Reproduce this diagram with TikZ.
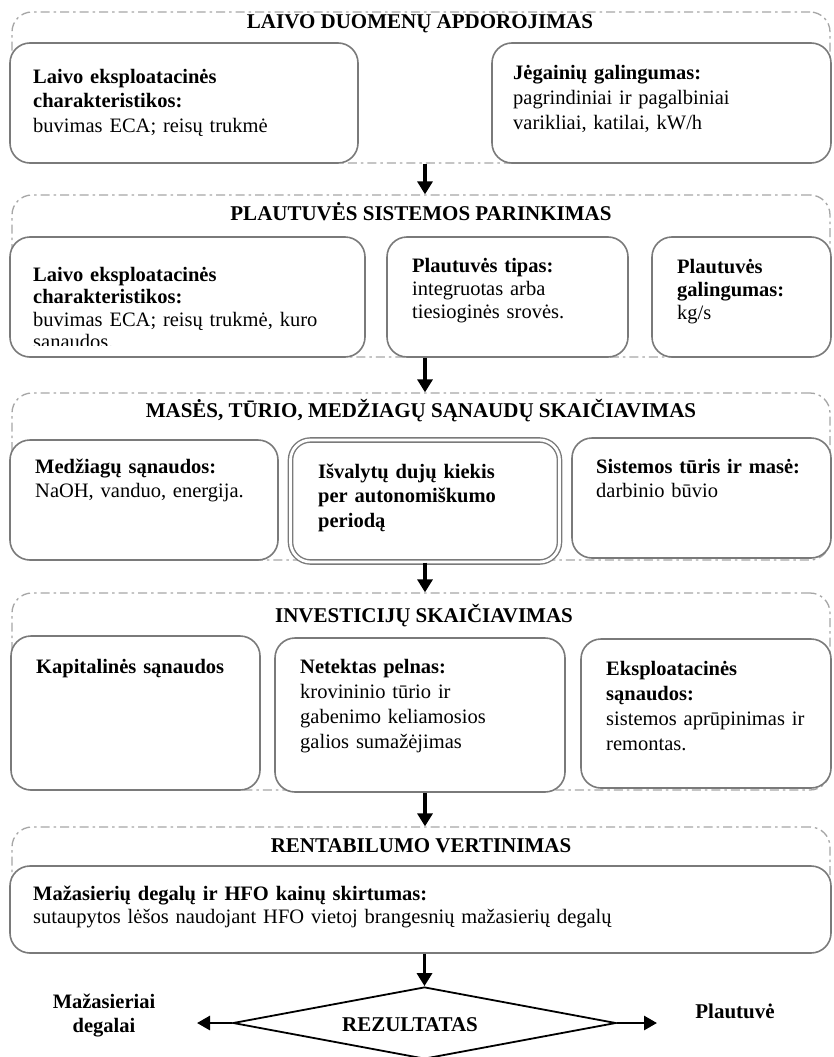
\documentclass[tikz,border=0pt]{standalone}
\usepackage{fontspec}
\setmainfont{Liberation Serif}
\usetikzlibrary{arrows.meta,shapes.geometric}
\definecolor{outgray}{HTML}{A6A6A6}
\definecolor{ingray}{HTML}{7A7A7A}
\tikzset{
  sect/.style={draw=outgray, line width=1.3pt, dash pattern=on 9pt off 4pt on 2.5pt off 4pt, rounded corners=20pt, inner sep=0pt},
  inbox/.style={draw=ingray, line width=1.6pt, rounded corners=20pt, fill=white, inner sep=0pt},
  dblbox/.style={draw=ingray, line width=1.4pt, double=white, double distance=2.8pt, rounded corners=20pt, fill=white, inner sep=0pt},
  flow/.style={line width=3.5pt, -{Triangle[length=13pt,width=15pt]}},
  side/.style={line width=2.8pt, -{Triangle[length=13pt,width=14pt]}},
  hd/.style={font=\fontsize{21}{25}\selectfont\bfseries, anchor=base, inner sep=0pt},
  txt/.style={font=\fontsize{20.5}{24.5}\selectfont, anchor=base west, inner sep=0pt, align=left, text width=800pt},
  lbl/.style={font=\fontsize{20.5}{24}\selectfont\bfseries, inner sep=0pt, align=center},
}
\begin{document}
\begin{tikzpicture}[x=1pt,y=-1pt]
\useasboundingbox (0,0) rectangle (833,1057);
\clip (0,0) rectangle (833,1057);
\fill[white] (0,0) rectangle (833,1057);

% ---- section 1
\node[sect, minimum width=818pt, minimum height=151pt] (s1) at (421,87.5) {};
\node[hd] (h1) at (420,29) {LAIVO DUOMENŲ APDOROJIMAS};
\node[inbox, minimum width=348pt, minimum height=120pt] (b1a) at (184,103) {};
\node[inbox, minimum width=339pt, minimum height=120pt] (b1b) at (661.5,103) {};
\node[txt] (t1a) at (33,83) {{\bfseries Laivo eksploatacinės\\charakteristikos:}\\buvimas ECA; reisų trukmė};
\node[txt] (t1b) at (513,80) {{\bfseries Jėgainių galingumas:}\\pagrindiniai ir pagalbiniai\\varikliai, katilai, kW/h};

% ---- section 2
\node[sect, minimum width=818pt, minimum height=162pt] (s2) at (421,276) {};
\node[hd] (h2) at (421,220) {PLAUTUVĖS SISTEMOS PARINKIMAS};
\node[inbox, minimum width=355pt, minimum height=120pt] (b2a) at (187.5,297) {};
\node[inbox, minimum width=241pt, minimum height=120pt] (b2b) at (507.5,297) {};
\node[inbox, minimum width=179pt, minimum height=120pt] (b2c) at (741.5,297) {};
\begin{scope}
\clip (10,237) rectangle (365,345);
\node[txt, font=\fontsize{20.5}{22.5}\selectfont] (t2a) at (33,281) {{\bfseries Laivo eksploatacinės\\charakteristikos:}\\buvimas ECA; reisų trukmė, kuro\\sąnaudos.};
\end{scope}
\node[txt, font=\fontsize{20.5}{23.2}\selectfont] (t2b) at (412,272) {{\bfseries Plautuvės tipas:}\\integruotas arba\\tiesioginės srovės.};
\node[txt, font=\fontsize{20.5}{23.2}\selectfont] (t2c) at (677,273) {{\bfseries Plautuvės\\galingumas:}\\kg/s};

% ---- section 3
\node[sect, minimum width=818pt, minimum height=167pt] (s3) at (421,476.5) {};
\node[hd] (h3) at (421,417) {MASĖS, TŪRIO, MEDŽIAGŲ SĄNAUDŲ SKAIČIAVIMAS};
\node[inbox, minimum width=268pt, minimum height=120pt] (b3a) at (144,500) {};
\node[dblbox, minimum width=269pt, minimum height=122pt] (b3b) at (425,501) {};
\node[inbox, minimum width=259pt, minimum height=120pt] (b3c) at (701.5,498) {};
\node[txt] (t3a) at (35,473) {{\bfseries Medžiagų sąnaudos:}\\NaOH, vanduo, energija.};
\node[txt, font=\fontsize{20.5}{24.5}\selectfont\bfseries] (t3b) at (318,478) {Išvalytų dujų kiekis\\per autonomiškumo\\periodą};
\node[txt] (t3c) at (596,473) {{\bfseries Sistemos tūris ir masė:}\\darbinio būvio};

% ---- section 4
\node[sect, minimum width=818pt, minimum height=197pt] (s4) at (421,691.5) {};
\node[hd] (h4) at (424,622) {INVESTICIJŲ SKAIČIAVIMAS};
\node[inbox, minimum width=249pt, minimum height=154pt] (b4a) at (135.5,713) {};
\node[inbox, minimum width=290pt, minimum height=154pt] (b4b) at (420,715) {};
\node[inbox, minimum width=250pt, minimum height=149pt] (b4c) at (706,713.5) {};
\node[txt, font=\fontsize{20.5}{24.5}\selectfont\bfseries] (t4a) at (36,673) {Kapitalinės sąnaudos};
\node[txt, font=\fontsize{20.5}{25}\selectfont] (t4b) at (300,673) {{\bfseries Netektas pelnas:}\\krovininio tūrio ir\\gabenimo keliamosios\\galios sumažėjimas};
\node[txt, font=\fontsize{20.5}{25}\selectfont] (t4c) at (606,675) {{\bfseries Eksploatacinės\\sąnaudos:}\\sistemos aprūpinimas ir\\remontas.};

% ---- section 5
\node[sect, minimum width=818pt, minimum height=126pt] (s5) at (421,890) {};
\node[hd] (h5) at (421,852) {RENTABILUMO VERTINIMAS};
\node[inbox, minimum width=821pt, minimum height=87pt] (b5) at (420.5,909.5) {};
\node[txt, font=\fontsize{20.5}{23}\selectfont] (t5) at (33,900) {{\bfseries Mažasierių degalų ir HFO kainų skirtumas:}\\sutaupytos lėšos naudojant HFO vietoj brangesnių mažasierių degalų};

% ---- decision
\node[diamond, draw=black, line width=1.8pt, minimum width=383pt, minimum height=72pt, inner sep=0pt] (dia) at (424.5,1023) {};
\node[hd] (rez) at (410,1031) {REZULTATAS};
\coordinate (lend) at (197,1023);
\coordinate (rend) at (657,1023);
\node[lbl] (lmaz) at (104,1016) {Mažasieriai\\degalai};
\node[hd] (lpl) at (735,1018) {Plautuvė};

% ---- connectors
\draw[flow] (s1.south -| b3b.center) -- (s2.north -| b3b.center);
\draw[flow] (s2.south -| b3b.center) -- (s3.north -| b3b.center);
\draw[flow] (b3b.south) -- (s4.north -| b3b.center);
\draw[flow] (b4b.south -| b3b.center) -- (s5.north -| b3b.center);
\draw[flow] (s5.south -| dia.north) -- (dia.north);
\draw[side] (dia.west) -- (lend);
\draw[side] (dia.east) -- (rend);
\end{tikzpicture}
\end{document}
